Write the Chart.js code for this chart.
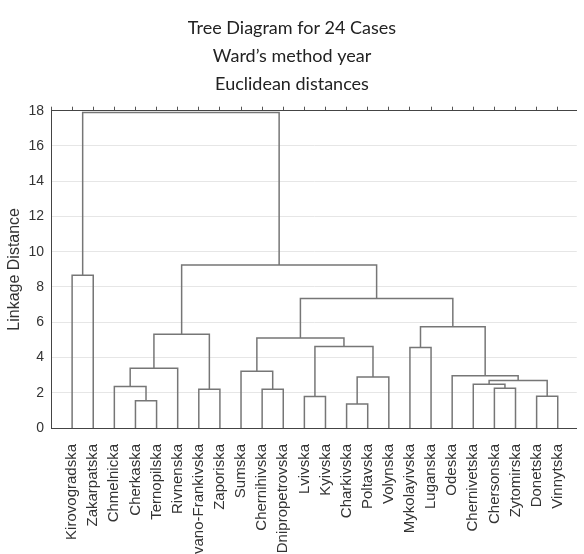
<!DOCTYPE html>
<html><head><meta charset="utf-8">
<script src="https://cdn.jsdelivr.net/npm/chart.js@4"></script>
<style>html,body{margin:0;padding:0;background:#fff;overflow:hidden}#wrap{width:584px;height:554px;position:relative}</style>
</head><body><div id="wrap"><canvas id="c" width="584" height="554"></canvas></div>
<script>
const titleLines = ["Tree Diagram for 24 Cases", "Ward\u2019s method year", "Euclidean distances"];
const yAxisTitle = "Linkage Distance";
const leaves = ["Kirovogradska","Zakarpatska","Chmelnicka","Cherkaska","Ternopilska","Rivnenska",
  "Ivano-Frankivska","Zaporiska","Sumska","Chernihivska","Dnipropetrovska","Lvivska","Kyivska",
  "Charkivska","Poltavska","Volynska","Mykolayivska","Luganska","Odeska","Chernivetska",
  "Chersonska","Zytomirska","Donetska","Vinnytska"];
const yTickValues = [0,2,4,6,8,10,12,14,16,18];
// Merge steps: nodes 0..23 are leaves, node 24+k is the k-th merge below
const mergeLeft   = [13, 3, 11, 22, 6, 9, 20, 2, 19, 32, 24, 18, 8, 31, 16, 26, 36, 37, 38, 40, 0, 41, 44];
const mergeRight  = [14, 4, 12, 23, 7, 10, 21, 25, 30, 27, 15, 33, 29, 5, 17, 34, 39, 28, 35, 42, 1, 43, 45];
const mergeHeight = [1.36, 1.55, 1.78, 1.8, 2.2, 2.2, 2.25, 2.35, 2.48, 2.69, 2.9, 2.97, 3.22, 3.39,
  4.56, 4.62, 5.11, 5.32, 5.74, 7.34, 8.67, 9.24, 17.9];

const nodeX = leaves.map((_, i) => i);
const nodeY = leaves.map(() => 0);
const datasets = [];
for (let k = 0; k < mergeHeight.length; k++) {
  const a = mergeLeft[k], b = mergeRight[k], h = mergeHeight[k];
  datasets.push({
    data: [{x: nodeX[a], y: nodeY[a]}, {x: nodeX[a], y: h}, {x: nodeX[b], y: h}, {x: nodeX[b], y: nodeY[b]}],
    showLine: true, borderColor: '#767676', borderWidth: 1.5, pointRadius: 0, tension: 0, fill: false
  });
  nodeX.push((nodeX[a] + nodeX[b]) / 2);
  nodeY.push(h);
}

const sans = "'Liberation Sans', Arial, sans-serif";
new Chart(document.getElementById('c'), {
  type: 'scatter',
  data: { datasets },
  options: {
    responsive: false, animation: false, events: [],
    layout: { padding: 0 },
    plugins: {
      legend: { display: false }, tooltip: { enabled: false },
      title: { display: true, text: titleLines, color: '#222',
        font: { family: "Lato, 'Open Sans', sans-serif", size: 18, weight: 'normal', lineHeight: 1.55 },
        padding: { top: 14, bottom: 9 } }
    },
    scales: {
      x: { type: 'linear', position: 'bottom', min: -1, max: 23.9,
        afterFit: s => { s.height = 126; },
        grid: { display: false },
        border: { display: true, color: '#444', width: 1 },
        ticks: { stepSize: 1, autoSkip: false, includeBounds: false, minRotation: 90, maxRotation: 90,
          padding: 8, color: '#333', font: { family: sans, size: 15 },
          callback: v => leaves[v] ?? '' } },
      x2: { type: 'linear', position: 'top', min: -1, max: 23.9,
        grid: { display: true, drawOnChartArea: false, drawTicks: true, tickLength: 4, color: '#555' },
        border: { display: true, color: '#444', width: 1 },
        ticks: { display: false, stepSize: 1, includeBounds: false } },
      y: { type: 'linear', min: 0, max: 18,
        afterFit: s => { s.width = 51; },
        afterBuildTicks: s => { s.ticks = yTickValues.map(v => ({ value: v })); },
        grid: { color: '#e6e6e6', drawTicks: false },
        border: { display: true, color: '#444', width: 1 },
        ticks: { stepSize: 2, padding: 7, color: '#333', font: { family: sans, size: 14 } },
        title: { display: true, text: yAxisTitle, color: '#333',
          font: { family: sans, size: 16 }, padding: { top: 5, bottom: 0 } } }
    }
  }
});
</script></body></html>
